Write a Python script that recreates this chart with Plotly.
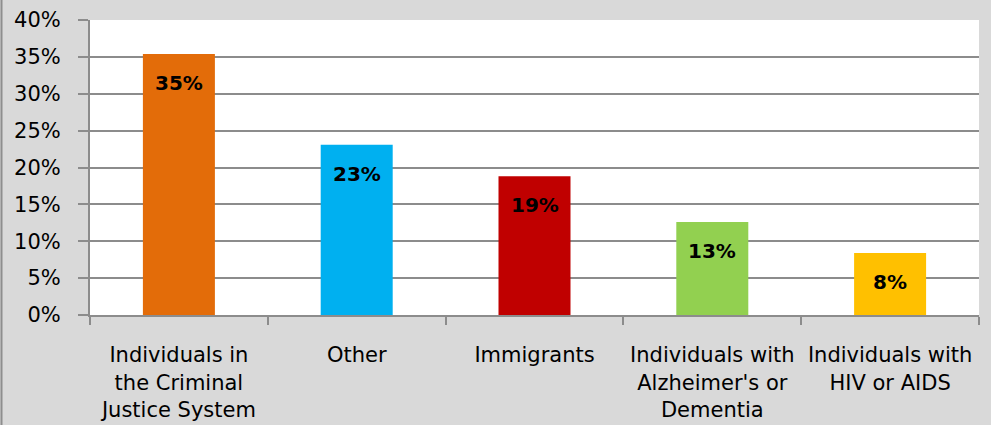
import plotly.graph_objects as go

categories = ["Individuals in<br>the Criminal<br>Justice System", "Other", "Immigrants",
              "Individuals with<br>Alzheimer's or<br>Dementia", "Individuals with<br>HIV or AIDS"]
values = [35.4, 23.1, 18.8, 12.6, 8.4]
labels = ["35%", "23%", "19%", "13%", "8%"]
colors = ["#E36C09", "#00B0F0", "#C00000", "#92D050", "#FFC000"]
y_ticks = [0, 5, 10, 15, 20, 25, 30, 35, 40]
y_ticktext = [f"{v}%" for v in y_ticks]

W, H = 991, 425
L, R, T, B = 90, 12, 20, 110
FONT = "DejaVu Sans"

fig = go.Figure()
fig.add_trace(go.Bar(x=categories, y=values, marker=dict(color=colors, line=dict(width=0)),
                     width=0.405, hoverinfo="skip"))

for c, v, t in zip(categories, values, labels):
    fig.add_annotation(x=c, y=v, text=f"<b>{t}</b>", showarrow=False, yanchor="middle",
                       yshift=-29, font=dict(family=FONT, size=20, color="black"))

pw = W - L - R
ph = H - T - B
fig.add_shape(type="line", xref="paper", yref="paper",
              x0=(1.5 - L) / pw, x1=(1.5 - L) / pw, y0=-B / ph, y1=1 + T / ph,
              line=dict(color="#8E8E8E", width=2))

fig.update_layout(
    width=W, height=H, margin=dict(l=L, r=R, t=T, b=B, pad=0, autoexpand=False),
    paper_bgcolor="#D9D9D9", plot_bgcolor="white", showlegend=False,
    font=dict(family=FONT, size=21, color="black"),
    bargap=0.595,
)
fig.update_xaxes(type="category", tickson="boundaries", ticks="outside", ticklen=8, tickwidth=2,
                 tickcolor="#8C8C8C", showline=True, linecolor="#8C8C8C", linewidth=2,
                 showgrid=False, ticklabelstandoff=20, automargin=False,
                 tickfont=dict(family=FONT, size=21))
fig.update_yaxes(range=[0, 40], tickvals=y_ticks, ticktext=y_ticktext, ticks="outside", ticklen=10,
                 tickwidth=2, tickcolor="#8C8C8C", showline=True, linecolor="#8C8C8C", linewidth=2,
                 showgrid=True, gridcolor="#8C8C8C", gridwidth=1.5, zeroline=False, automargin=False,
                 ticklabelstandoff=13, tickfont=dict(family=FONT, size=21))

fig.write_html("out.html", config={"displayModeBar": False},
               post_script="document.body.style.margin='0px';document.body.style.overflow='hidden';")
